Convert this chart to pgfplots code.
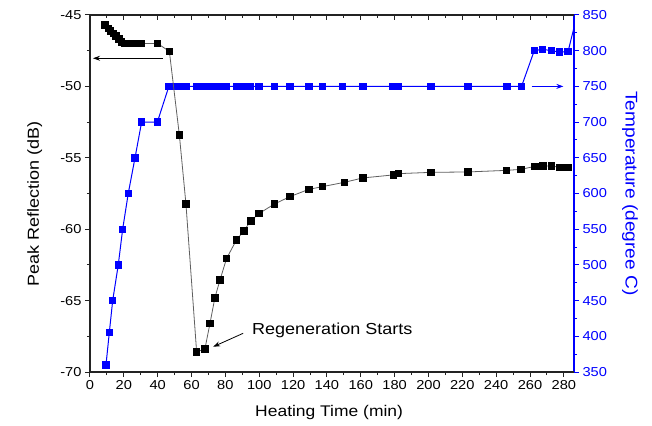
\documentclass[border=0pt]{standalone}
\usepackage{pgfplots}
\pgfplotsset{compat=1.18}
\usetikzlibrary{arrows.meta}
\usepackage{fontspec}
\setmainfont[FakeStretch=1.13]{Liberation Sans}
\definecolor{oblue}{RGB}{0,0,255}
\definecolor{axgray}{RGB}{35,35,35}
\definecolor{lgray}{RGB}{95,95,95}

\pgfplotstableread{
t T
9.45 360
11.4 405
13.4 450
16.7 500
19.3 550
22.6 600
26.6 650
30.5 700
39.8 700
46.6 750
51.0 750
52.8 750
56.7 750
63.0 750
66.0 750
67.9 750
70.9 750
73.8 750
76.8 750
80.7 750
86.6 750
91.0 750
95.0 750
99.9 750
108.9 750
118.1 750
129.3 750
137.3 750
149.2 750
161.2 750
179.1 750
182.1 750
201.4 750
223.4 750
246.5 750
255.0 750
262.5 800
267.5 802
272.7 800
277.6 798
282.5 799
292.0 890
}\tempdata

\pgfplotstableread{
t R
8.9 -45.70
10.8 -45.93
12.2 -46.10
13.8 -46.28
15.4 -46.47
17.1 -46.68
18.7 -46.87
20.7 -46.98
22.6 -47.00
24.6 -47.00
26.6 -47.00
28.5 -47.00
30.5 -47.00
40.0 -47.00
46.9 -47.55
52.8 -53.40
56.7 -58.24
63.0 -68.58
67.9 -68.39
70.9 -66.59
73.8 -64.80
76.8 -63.56
80.7 -62.05
86.6 -60.74
91.0 -60.11
95.0 -59.41
99.9 -58.90
108.9 -58.24
118.1 -57.72
129.3 -57.21
137.3 -57.02
150.2 -56.72
161.2 -56.41
179.1 -56.20
182.1 -56.11
201.4 -56.02
223.4 -55.99
246.1 -55.88
254.6 -55.81
262.8 -55.60
267.7 -55.57
272.7 -55.57
277.6 -55.67
282.5 -55.67
}\refldata

\pgfplotsset{
  common/.style={
    scale only axis, width=484bp, height=357bp,
    at={(0,0)}, anchor=south west,
    xmin=0, xmax=286,
    /pgf/number format/assume math mode=true,
    tick label style={font=\fontsize{13}{15}\selectfont},
    major tick length=5bp, minor tick length=3bp,
  },
}

\begin{document}
\begin{tikzpicture}[x=1bp,y=1bp]
\useasboundingbox (-90,-53) rectangle (562,372);

% Temperature (right axis)
\begin{axis}[common,
  axis x line=none, axis y line*=right,
  ymin=350, ymax=850, ytick={350,400,...,850}, minor y tick num=1,
  tick align=outside,
  y axis line style={oblue, line width=1.4bp},
  y tick style={oblue, line width=1bp},
  yticklabel style={oblue},
  ylabel={Temperature (degree C)},
  ylabel style={oblue, rotate=180, at={(axis description cs:1.1157,0.5)}, anchor=center, font=\fontsize{17}{20}\selectfont},
]
\addplot[oblue, line width=1bp, mark=square*, mark size=3.2bp, mark options={fill=oblue, draw=oblue, solid}] table[x=t, y=T] {\tempdata};
\draw[oblue, line width=0.9bp, -{Stealth[length=7bp, width=5bp]}] (axis cs:261,750) -- (axis cs:279.7,750);
\end{axis}

% Peak reflection (left axis)
\begin{axis}[common,
  axis x line*=bottom, axis y line*=left,
  ymin=-70, ymax=-45, ytick={-70,-65,...,-45}, minor y tick num=1,
  xtick={0,20,...,280}, minor x tick num=1,
  tick align=outside,
  axis line style={axgray, line width=1.2bp},
  tick style={axgray, line width=1bp},
  xlabel={Heating Time (min)},
  xlabel style={at={(axis description cs:0.494,-0.1148)}, anchor=center, font=\fontsize{15.5}{18}\selectfont},
  ylabel={Peak Reflection (dB)},
  ylabel style={at={(axis description cs:-0.1143,0.47)}, anchor=center, font=\fontsize{16}{18}\selectfont},
]
\addplot[lgray, line width=0.8bp, mark=square*, mark size=3.2bp, mark options={fill=black, draw=black, solid}] table[x=t, y=R] {\refldata};
\draw[black, line width=0.8bp, -{Stealth[length=7bp, width=5bp]}] (axis cs:43,-48.03) -- (axis cs:1.8,-48.03);
\draw[black, line width=0.8bp, -{Stealth[length=7bp, width=5bp]}] (axis cs:90.5,-67.29) -- (axis cs:72.8,-68.23);
\node[anchor=west, inner sep=0pt, font=\fontsize{16}{18}\selectfont] at (axis cs:95.7,-67.06) {Regeneration Starts};
\end{axis}

% top axis with inward ticks
\begin{axis}[common,
  axis x line*=top, axis y line=none,
  ymin=0, ymax=1,
  xtick={0,20,...,280}, minor x tick num=1, xticklabels={},
  tick align=inside,
  axis line style={axgray, line width=1.2bp},
  tick style={axgray, line width=1bp},
]
\end{axis}
\end{tikzpicture}
\end{document}
